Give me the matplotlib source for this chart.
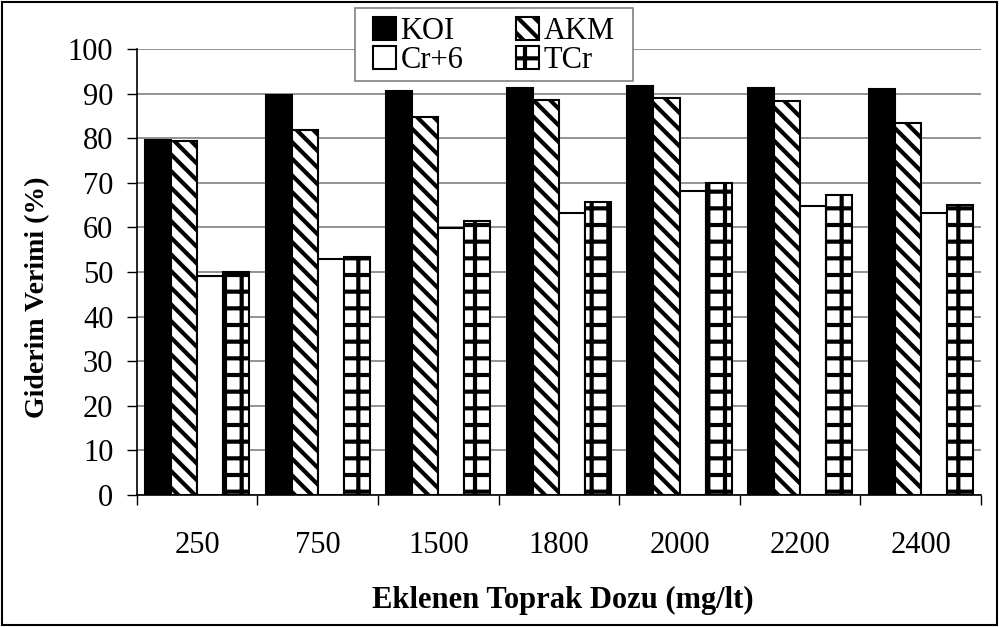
import numpy as np
import matplotlib.pyplot as plt
from matplotlib.patches import Rectangle

doses = ['250', '750', '1500', '1800', '2000', '2200', '2400']
koi = [79.5, 89.7, 90.6, 91.3, 91.7, 91.3, 91.0]
akm = [79.4, 81.8, 84.8, 88.6, 89.1, 88.4, 83.5]
cr6 = [49.2, 52.9, 59.9, 63.2, 68.2, 64.9, 63.3]
tcr = [50.0, 53.4, 61.4, 65.6, 69.9, 67.3, 65.0]

plt.rcParams['font.family'] = ['Liberation Serif', 'DejaVu Serif']
plt.rcParams['hatch.linewidth'] = 3.0

fig = plt.figure(figsize=(9.99, 6.27), dpi=100)
ax = fig.add_axes([0.137, 0.2105, 0.845, 0.7114])

x = np.arange(len(doses))
w = 0.216
b1 = ax.bar(x - 1.5 * w, koi, w, color='black', edgecolor='black', linewidth=1.5, label='KOI', zorder=3)
b2 = ax.bar(x - 0.5 * w, akm, w, color='white', edgecolor='black', hatch='\\\\', linewidth=1.5, label='AKM', zorder=3)
b3 = ax.bar(x + 0.5 * w, cr6, w, color='white', edgecolor='black', linewidth=1.5, label='Cr+6', zorder=3)
b4 = ax.bar(x + 1.5 * w, tcr, w, color='white', edgecolor='black', hatch='+', linewidth=1.5, label='TCr', zorder=3)

ax.set_xlim(-0.5, len(doses) - 0.5)
ax.set_ylim(0, 100)
ax.set_yticks(np.arange(0, 101, 10))
ax.yaxis.grid(True, color='#808080', linewidth=1.2, zorder=0)
ax.set_axisbelow(True)

ax.set_xticks(np.arange(-0.5, len(doses), 1))
ax.set_xticklabels([])
ax.set_xticks(x, minor=True)
ax.set_xticklabels(doses, minor=True)
ax.tick_params(axis='x', which='major', direction='out', length=7, width=1)
ax.tick_params(axis='x', which='minor', length=0, pad=26, labelsize=22)
ax.tick_params(axis='y', direction='out', length=7, width=1, labelsize=22, pad=10)

for s in ['top', 'right']:
    ax.spines[s].set_visible(False)
ax.spines['left'].set_linewidth(1.2)
ax.spines['bottom'].set_linewidth(1.2)

ax.set_ylabel('Giderim Verimi (%)', fontsize=20, fontweight='bold')
ax.yaxis.set_label_coords(-0.103, 0.444)
ax.set_xlabel('Eklenen Toprak Dozu (mg/lt)', fontsize=22, fontweight='bold')
ax.xaxis.set_label_coords(0.505, -0.204)

# legend box drawn by hand so the padding matches
fig.patches.append(Rectangle((355 / 999, 1 - 81 / 627), 278 / 999, 73 / 627, transform=fig.transFigure,
                             facecolor='white', edgecolor='#808080', linewidth=1.2, zorder=4))
leg = fig.legend([b1, b3, b2, b4], ['KOI', 'Cr+6', 'AKM', 'TCr'],
                 loc='upper left', bbox_to_anchor=(373 / 999, 1 - 17 / 627, 242 / 999, 0.0),
                 mode='expand', ncol=2, fontsize=22, frameon=False,
                 handlelength=0.75, handleheight=0.75, handletextpad=0.15,
                 borderpad=0, labelspacing=0.0, borderaxespad=0)
leg.set_zorder(5)

fig.patches.append(Rectangle((0.002, 0.003), 0.996, 0.994, transform=fig.transFigure,
                             fill=False, edgecolor='black', linewidth=1.5))

fig.savefig('out.png', dpi=100)
